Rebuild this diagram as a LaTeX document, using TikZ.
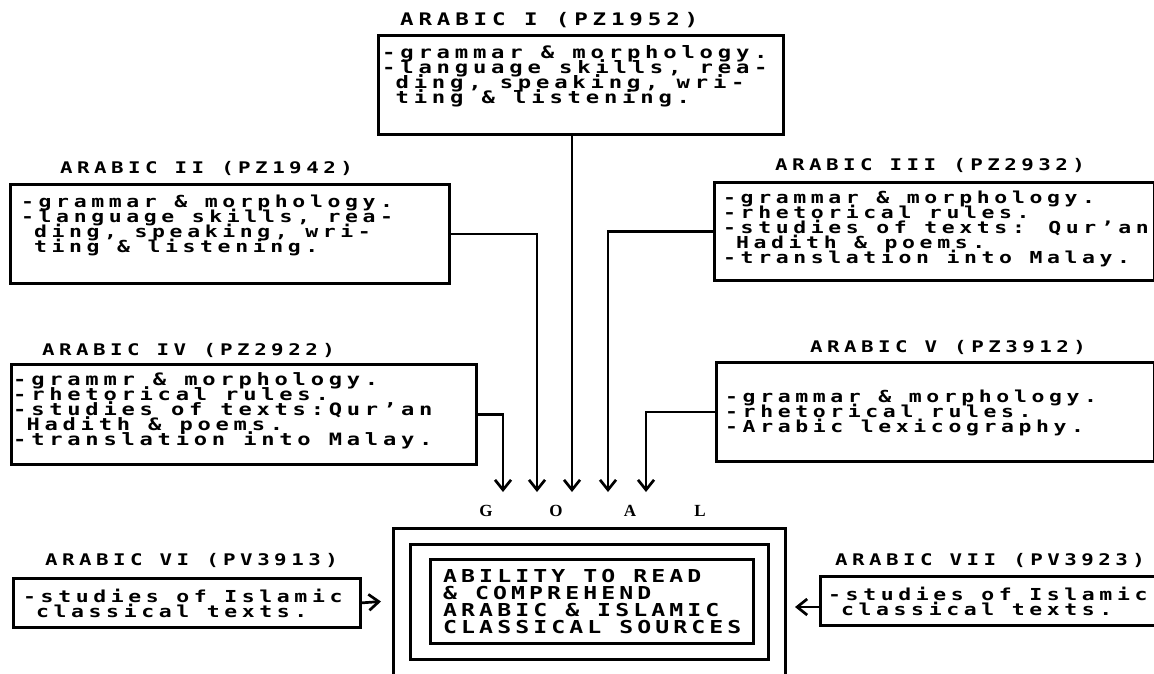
\documentclass[tikz,border=0pt]{standalone}
\usepackage{fontspec}
\usetikzlibrary{arrows.meta}
\newfontfamily\bodyf{DejaVu Sans Mono}[FakeStretch=1.3,LetterSpace=28]
\newfontfamily\goalf{DejaVu Sans Mono}[FakeStretch=1.3,LetterSpace=23]
\newfontfamily\goalserif{Liberation Serif}
\newcommand\mlines[2]{\vtop{\baselineskip=#1\lineskiplimit=-100pt\lineskip=0pt\halign{##\hfil\cr#2\crcr}}}
\newcommand\ind{\phantom{-}}
\tikzset{
  box/.style={draw, line width=2.7pt, inner sep=0pt, anchor=north west},
  ttl/.style={anchor=base west, inner sep=0pt, font=\bodyf\bfseries\fontsize{16}{16}\selectfont},
  txt/.style={anchor=base west, inner sep=0pt, font=\bodyf\bfseries\fontsize{16.5}{15}\selectfont},
  goalletter/.style={anchor=base, inner sep=0pt, font=\goalserif\bfseries\fontsize{17}{17}\selectfont},
  arr/.style={line width=2.7pt, -{Straight Barb[length=10pt,width=16pt,line width=2.7pt]}},
}
\begin{document}
\begin{tikzpicture}[x=1pt,y=-1pt]
\useasboundingbox (0,0) rectangle (1154,673);
\clip (0,0) rectangle (1154,673);
\fill[white] (0,0) rectangle (1154,673);

% boxes
\node[box, minimum width=405pt, minimum height=99pt] (b1) at (377,34) {};
\node[box, minimum width=439pt, minimum height=99pt] (b2) at (9,183) {};
\node[box, minimum width=440pt, minimum height=98pt] (b3) at (713,181) {};
\node[box, minimum width=465pt, minimum height=100pt] (b4) at (10,363) {};
\node[box, minimum width=438pt, minimum height=99pt] (b5) at (715,361) {};
\node[box, minimum width=347pt, minimum height=49pt] (b6) at (12,577) {};
\node[box, minimum width=345pt, minimum height=49pt] (b7) at (819,575) {};
\node[box, minimum width=392pt, minimum height=180pt] (g0) at (392,527) {};
\node[box, minimum width=358pt, minimum height=115pt] (g1) at (409,543) {};
\node[box, minimum width=323pt, minimum height=84pt] (g2) at (429,558) {};

% titles
\node[ttl, font=\bodyf\bfseries\fontsize{17.3}{16}\selectfont] (h1) at (400,25) {ARABIC I (PZ1952)};
\node[ttl] (h2) at (60,173) {ARABIC II (PZ1942)};
\node[ttl] (h3) at (775,170) {ARABIC III (PZ2932)};
\node[ttl] (h4) at (42,355) {ARABIC IV (PZ2922)};
\node[ttl] (h5) at (810,352) {ARABIC V (PZ3912)};
\node[ttl] (h6) at (45,565) {ARABIC VI (PV3913)};
\node[ttl] (h7) at (835,565) {ARABIC VII (PV3923)};

% texts
\node[txt, font=\bodyf\bfseries\fontsize{17.1}{15}\selectfont] (t1) at (382,58) {\mlines{15pt}{-grammar \& morphology.\cr
-language skills, rea-\cr
\ind ding, speaking, wri-\cr
\ind ting \& listening.}};
\node[txt] (t2) at (21,207) {\mlines{15pt}{-grammar \& morphology.\cr
-language skills, rea-\cr
\ind ding, speaking, wri-\cr
\ind ting \& listening.}};
\node[txt] (t3) at (723,203) {\mlines{15pt}{-grammar \& morphology.\cr
-rhetorical rules.\cr
-studies of texts: Qur’an\cr
\ind Hadith \& poems.\cr
-translation into Malay.}};
\node[txt, font=\bodyf\bfseries\fontsize{17}{15}\selectfont] (t4) at (13,385) {\mlines{15pt}{-grammr \& morphology.\cr
-rhetorical rules.\cr
-studies of texts:Qur’an\cr
\ind Hadith \& poems.\cr
-translation into Malay.}};
\node[txt] (t5) at (725,402) {\mlines{15pt}{-grammar \& morphology.\cr
-rhetorical rules.\cr
-Arabic lexicography.}};
\node[txt] (t6) at (23,602) {\mlines{15pt}{-studies of Islamic\cr
\ind classical texts.}};
\node[txt] (t7) at (828,600) {\mlines{15pt}{-studies of Islamic\cr
\ind classical texts.}};
\node[txt, font=\goalf\bfseries\fontsize{17.8}{17}\selectfont] (t0) at (443,582) {\mlines{17pt}{ABILITY TO READ\cr
\& COMPREHEND\cr
ARABIC \& ISLAMIC\cr
CLASSICAL SOURCES}};

% GOAL letters
\node[goalletter] (lg) at (486,516) {G};
\node[goalletter] (lo) at (556,516) {O};
\node[goalletter] (la) at (630,516) {A};
\node[goalletter] (ll) at (700,516) {L};

% arrow ends
\coordinate (e1) at (572,492);
\coordinate (e2) at (537,492);
\coordinate (e3) at (608,492);
\coordinate (e4) at (503,492);
\coordinate (e5) at (646,492);
\coordinate (e6) at (381,601.5);
\coordinate (e7) at (795,607);

% connectors
\draw[arr] (b1.south -| e1) -- (e1);
\draw[arr] (b2.east) -| (e2);
\draw[arr] (b3.west) -| (e3);
\draw[arr] (b4.east) -| (e4);
\draw[arr] (b5.west) -| (e5);
\draw[arr] (b6.east) -- (e6);
\draw[arr] (b7.west |- e7) -- (e7);
\end{tikzpicture}
\end{document}
